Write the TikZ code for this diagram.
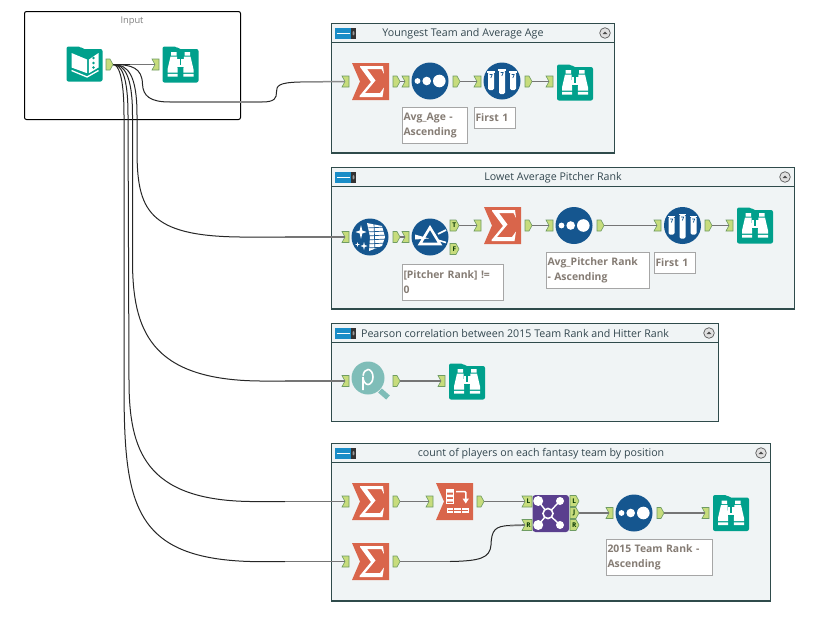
\documentclass[tikz,border=0pt]{standalone}
\usepackage{fontspec}
\setmainfont{Open Sans}
\usetikzlibrary{calc,arrows.meta}
\definecolor{panel}{HTML}{F0F4F5}
\definecolor{panelline}{HTML}{2F4B4B}
\definecolor{teal}{HTML}{00A08C}
\definecolor{sumred}{HTML}{D9654B}
\definecolor{sortblue}{HTML}{15568F}
\definecolor{joinpurple}{HTML}{5A3F8E}
\definecolor{portgreen}{HTML}{C7DC7C}
\definecolor{portline}{HTML}{6F9C63}
\definecolor{wiregray}{HTML}{757575}
\definecolor{titleink}{HTML}{33474F}
\definecolor{noteink}{HTML}{857C74}
\definecolor{pearsonteal}{HTML}{7FBDB8}
\definecolor{sliderblue}{HTML}{1A8DC7}
\tikzset{
  x=1pt,y=-1pt,
  panelbox/.style={draw=panelline,fill=panel,line width=1.1pt},
  panelrule/.style={draw=panelline,line width=1.1pt},
  paneltitle/.style={text=titleink,font=\fontsize{10.65}{12}\selectfont,inner sep=0pt},
  notebox/.style={draw=black!35,line width=1pt,fill=white,anchor=north west,inner xsep=1.5pt,inner ysep=0pt,align=left,
     minimum height=36pt,text=noteink,font=\fontsize{10.4}{15}\selectfont\bfseries},
  shortnote/.style={notebox,minimum height=21pt},
  tip/.style={inner sep=0pt,minimum size=0pt},
  portshape/.style={fill=portgreen,draw=portline,line width=.6pt},
  portletter/.style={inner sep=0pt,font=\fontsize{6.5}{6.5}\selectfont\bfseries,text=black!80!green},
  straightwire/.style={draw=wiregray,line width=1.7pt},
  curvewire/.style={draw=black!85,line width=1pt},
  softwire/.style={draw=black!45,line width=1.5pt},
  pics/browse/.style={code={
    \fill[teal,rounded corners=2pt] (0,0)--(14,0)--(16,2.5)--(36,2.5)--(36,36)--(0,36)--cycle;
    \fill[white] (8.5,5.5) rectangle (14,9) (22,5.5) rectangle (27.5,9);
    \fill[white] (8,10)--(14.5,10)--(15.2,26)--(5,26)--(5,23)--cycle;
    \fill[white] (28,10)--(21.5,10)--(20.8,26)--(31,26)--(31,23)--cycle;
    \fill[white] (14.5,12) rectangle (21.5,20);
    \fill[white] (5,27.3) rectangle (15.2,30) (20.8,27.3) rectangle (31,30);
    \fill[teal] (17.3,12) rectangle (18.7,18);
  }},
  pics/bookicon/.style={code={
    \fill[teal,rounded corners=2pt] (0,0)--(14,0)--(16,2.5)--(36,2.5)--(36,35)--(0,35)--cycle;
    \fill[white] (5,6.5)--(20.6,13)--(20.6,26.7)--(5,21)--cycle;
    \fill[white] (22.4,13)--(32,6.5)--(32,21)--(22.4,26.7)--cycle;
    \fill[teal] (27,11.5) circle (1.3) (27,16.5) circle (1.3) (27,21) circle (1.3);
    \draw[white,line width=1.3pt] (5,24)--(20.6,30.5)--(32,24);
  }},
  pics/sumicon/.style={code={
    \fill[sumred] (0,0)--(37,0)--(37,37)--(0,37)--(8,18.5)--cycle;
    \fill[white] (8,3)--(31,3)--(32,11)--(29.5,6)--(15,6)--(23.5,17.5)--(13,30)--(28,30)--(32,24.5)--(30.5,34)--(7.5,34)--(7.5,33)--(19,19)--(8,4)--cycle;
  }},
  pics/sorticon/.style={code={
    \fill[sortblue] (0,0) circle (18.5);
    \fill[white] (-12.5,0) circle (2.9) (-3.3,0) circle (4.3) (9.3,0) circle (6.3);
  }},
  pics/sampleicon/.style={code={
    \fill[sortblue] (0,0) circle (18.5);
    \foreach \dx/\top/\bot in {-11/-9/9,0/-11/13,11/-9/9}{
      \fill[white,rounded corners=1.5pt] (\dx-3,\top)--(\dx+3,\top)--(\dx+3,\bot)--(\dx-3,\bot)--cycle;
      \fill[white] (\dx-3.8,\top-.8) rectangle (\dx+3.8,\top+.6);
      \draw[sortblue,line width=.7pt] (\dx-1.5,\top+2.5)--(\dx+1.2,\top+2.5)--(\dx-.2,\top+6);
    }
  }},
  pics/filtericon/.style={code={
    \fill[sortblue] (0,0) circle (18.5);
    \draw[white,line width=2.6pt,line join=miter] (0,-9.5)--(10,7)--(-10,7)--cycle;
    \fill[white] (-15,-2.5)--(-1,1.5)--(-15,2.5)--cycle;
    \draw[white,line width=1.6pt] (8,-3)--(16,-7);
    \draw[white,line width=1.6pt] (9,3.5)--(16,5.5);
  }},
  pics/selecticon/.style={code={
    \fill[sortblue] (0,0) circle (18.5);
    \begin{scope}
      \clip (0,0) circle (17.5);
      \fill[white] (-3,-14)--(12,-11)--(15,0)--(12,9)--(-1,14)--(0,0)--cycle;
      \foreach \yy in {-9,-5,-1,3,7,11}{\draw[sortblue,line width=.7pt] (-4,\yy)--(17,\yy-1);}
      \draw[sortblue,line width=.7pt] (4,-14)--(5,14);
    \end{scope}
    \fill[white] (-9,-12)--(-7.7,-6.5)--(-3.5,-5)--(-7.7,-3.5)--(-9,2)--(-10.3,-3.5)--(-14.5,-5)--(-10.3,-6.5)--cycle;
    \fill[white] (-6,5)--(-5.2,8)--(-2.5,9)--(-5.2,10)--(-6,13)--(-6.8,10)--(-9.5,9)--(-6.8,8)--cycle;
    \fill[white] (-12.5,5)--(-12,7)--(-10,7.5)--(-12,8)--(-12.5,10)--(-13,8)--(-15,7.5)--(-13,7)--cycle;
  }},
  pics/arrangeicon/.style={code={
    \fill[sumred] (0,0)--(37,0)--(37,37)--(0,37)--(8,18.5)--cycle;
    \draw[white,line width=.9pt] (10.7,6.5) rectangle (17.3,20.5);
    \fill[white] (10.7,6.5) rectangle (17.3,9.5) (10.7,11.5) rectangle (17.3,14) (10.7,16) rectangle (17.3,18.5);
    \draw[white,line width=1.5pt] (20,8.7)--(29,8.7)--(29.8,9.5)--(29.8,16);
    \fill[white] (26.5,15.5)--(33,15.5)--(29.8,20.5)--cycle;
    \fill[white] (10.7,25.3) rectangle (33.3,29.5);
    \draw[sumred,line width=.6pt] (11.8,27.4)--(32.2,27.4);
    \draw[sumred,line width=.8pt] (17.5,25.3)--(17.5,29.5) (25,25.3)--(25,29.5);
  }},
  pics/joinicon/.style={code={
    \fill[joinpurple,rounded corners=3pt] (0,0) rectangle (36.5,37);
    \draw[white,line width=1.4pt] (5.7,6)--(15.5,18.5)--(5.7,30) (27.5,6)--(15.5,18.5)--(27.5,30);
    \fill[white] (5.7,6) circle (5) (5.7,30) circle (5) (27.5,6) circle (4) (27.5,30) circle (4);
    \fill[joinpurple,draw=white,line width=1.6pt] (15.5,18.5) circle (5);
  }},
  pics/pearsonicon/.style={code={
    \draw[pearsonteal,line width=5.5pt] (12,12.5)--(20,19.5);
    \fill[pearsonteal] (0,0) circle (16.5);
    \draw[white,line width=1.6pt] (-5,12) -- (-5,-1) arc[start angle=180,end angle=-170,x radius=5,y radius=7.5];
  }},
  pics/sliderglyph/.style={code={
    \fill[sliderblue] (0,0) rectangle (16,10.5);
    \fill[black!80] (16,0) rectangle (21,10.5);
    \fill[black!40] (18.5,5.25) ellipse (1 and 2.2);
    \draw[white,line width=.8pt] (1.5,5.25)--(14.5,5.25);
  }},
  pics/collapseglyph/.style={code={
    \fill[black!12,draw=black!65,line width=.7pt] (0,0) circle (5.3);
    \fill[black!70] (-2.5,1)--(0,-1.3)--(2.5,1)--cycle;
  }}
}
% input anchor: the node sits on the notch, the body reaches either side of it
\newcommand{\inlet}[3]{%
  \draw[portshape] (#2-3,#3-5.5)--(#2+4,#3-5.5)--(#2+4,#3+5.5)--(#2-3,#3+5.5)--(#2,#3)--cycle;
  \node[tip] (#1) at (#2,#3) {};}
% output anchor: the node sits on the point of the pentagon
\newcommand{\outlet}[3]{%
  \draw[portshape] (#2-7,#3-5.5)--(#2-3,#3-5.5)--(#2,#3)--(#2-3,#3+5.5)--(#2-7,#3+5.5)--cycle;
  \node[tip] (#1) at (#2,#3) {};}
% lettered outlets of the filter and join tools
\newcommand{\letterout}[4]{%
  \draw[portshape] (#2-9,#3-5.5)--(#2-3,#3-5.5)--(#2,#3)--(#2-3,#3+5.5)--(#2-9,#3+5.5)--cycle;
  \node[tip] (#1) at (#2,#3) {};
  \node[portletter] (#1t) at (#2-4.7,#3) {#4};}
% lettered inlets of the join tool
\newcommand{\letterin}[4]{%
  \draw[portshape] (#2-3,#3-5.5)--(#2+7,#3-5.5)--(#2+7,#3+5.5)--(#2-3,#3+5.5)--(#2,#3)--cycle;
  \node[tip] (#1) at (#2,#3) {};
  \node[portletter] (#1t) at (#2+3.5,#3) {#4};}
% titled panel: left, top, right, header rule, bottom
\newcommand{\toolpanel}[5]{%
  \draw[panelbox] (#1,#2) rectangle (#3,#5);
  \draw[panelrule] (#1,#4) -- (#3,#4);
  \pic at (#1+3.5,#2+4.5) {sliderglyph};
  \pic at (#3-9.5,#2+9.5) {collapseglyph};}
\begin{document}
\begin{tikzpicture}
\useasboundingbox (0,0) rectangle (831,622);
\fill[white] (0,0) rectangle (831,622);

% input group
\draw[black,line width=1pt,rounded corners=2pt] (24.5,11.5) rectangle (240.5,119.5);
\node[inner sep=0pt,text=black!50,font=\fontsize{9.3}{10}\selectfont] (inputtitle) at (132,21) {Input};

% panels
\toolpanel{331.5}{23.5}{614.5}{42.5}{153}
\node[paneltitle] (t1) at (463,33.5) {Youngest Team and Average Age};
\toolpanel{331.5}{167.5}{794.5}{186.5}{309}
\node[paneltitle] (t2) at (553,177.5) {Lowet Average Pitcher Rank};
\toolpanel{331.5}{323.5}{718.5}{342.5}{421.5}
\node[paneltitle] (t3) at (515,333.5) {Pearson correlation between 2015 Team Rank and Hitter Rank};
\toolpanel{331.5}{443.5}{770.5}{462.5}{601}
\node[paneltitle] (t4) at (541,453.5) {count of players on each fantasy team by position};

% tool icons
\pic at (66.5,46.5) {bookicon};
\pic at (162.5,46.5) {browse};

\pic at (352,63) {sumicon};
\pic at (430,81) {sorticon};
\pic at (502,81) {sampleicon};
\pic at (557,64.5) {browse};

\pic at (370,237) {selecticon};
\pic at (430,237) {filtericon};
\pic at (484,207) {sumicon};
\pic at (574,225.5) {sorticon};
\pic at (682.5,225.5) {sampleicon};
\pic at (737,207.5) {browse};

\pic at (368,378) {pearsonicon};
\pic at (449,363.5) {browse};

\pic at (352,483) {sumicon};
\pic at (436,483) {arrangeicon};
\pic at (532.5,495) {joinicon};
\pic at (634,513) {sorticon};
\pic at (713,495) {browse};
\pic at (352,543) {sumicon};

% ports
\outlet{bookout}{113}{64.5}
\inlet{viewin}{155}{64.5}

\inlet{ain}{345}{81.5}
\outlet{aout}{400}{81.5}
\inlet{bin}{405}{81.5}
\outlet{bout}{460}{81.5}
\inlet{cin}{477}{81.5}
\outlet{cout}{532}{81.5}
\inlet{din}{549}{81.5}

\inlet{ein}{345}{237}
\outlet{eout}{400}{237}
\inlet{fin}{405}{237}
\letterout{ftrue}{459}{225.5}{T}
\letterout{ffalse}{459}{249}{F}
\inlet{gin}{477}{225.5}
\outlet{gout}{532}{225.5}
\inlet{hin}{549}{225.5}
\outlet{hout}{604}{225.5}
\inlet{iin}{657}{225.5}
\outlet{iout}{712}{225.5}
\inlet{jin}{729}{225.5}

\inlet{kin}{345}{381}
\outlet{kout}{400}{381}
\inlet{lin}{441}{381}

\inlet{min}{345}{501.5}
\outlet{mout}{400}{501.5}
\inlet{nin}{429}{501.5}
\outlet{nout}{484}{501.5}
\letterin{jleft}{525}{501.5}{L}
\letterin{jright}{525}{525}{R}
\letterout{joutl}{579}{501}{L}
\letterout{joutj}{579}{513}{J}
\letterout{joutr}{579}{525}{R}
\inlet{oin}{609}{513}
\outlet{oout}{664}{513}
\inlet{pin}{705}{513}
\inlet{qin}{345}{561.5}
\outlet{qout}{400}{561.5}

% straight connectors
\foreach \a/\b in {bookout/viewin,aout/bin,bout/cin,cout/din,eout/fin,ftrue/gin,gout/hin,hout/iin,iout/jin,
                   kout/lin,mout/nin,nout/jleft,joutj/oin,oout/pin}
  \draw[straightwire] (\a) -- (\b);
\draw[curvewire,line width=1.4pt] (bookout) -- (130,64.5);

% long connectors fanning out of the input tool
\draw[curvewire] (bookout) .. controls (132,64.5) and (142,68) .. (142.5,84)
   .. controls (143,96) and (150,102) .. (170,102);
\draw[softwire] (170,102) -- (262,102);
\draw[curvewire] (262,102) .. controls (275,102) and (276.5,98) .. (276.5,92)
   .. controls (276.5,86) and (278,82.5) .. (300,82);
\draw[softwire] (300,82) -- (ain);

\draw[curvewire] (bookout) .. controls (128,64.5) and (137,75) .. (137,115)
   -- (137,150) .. controls (137,210) and (148,236) .. (240,237) -- (285,237);
\draw[straightwire] (285,237) -- (ein);

\draw[curvewire] (bookout) .. controls (124,64.5) and (132.5,75) .. (132.5,115)
   -- (132.5,260) .. controls (132.5,330) and (150,380) .. (260,381) -- (285,381);
\draw[straightwire] (285,381) -- (kin);

\draw[curvewire] (bookout) .. controls (121,64.5) and (128,75) .. (128,115)
   -- (129,380) .. controls (129,450) and (145,500) .. (250,501.5) -- (285,501.5);
\draw[straightwire] (285,501.5) -- (min);

\draw[curvewire] (bookout) .. controls (118,64.5) and (124,75) .. (124,115)
   -- (124,380) .. controls (124,500) and (130,558) .. (250,561.5) -- (285,561.5);
\draw[straightwire] (285,561.5) -- (qin);

% join tool's right input
\draw[straightwire] (qout) -- (450,561.5);
\draw[curvewire] (450,561.5) .. controls (480,561) and (490,558) .. (491,545)
   .. controls (491.5,530) and (495,526) .. (510,525.5);
\draw[straightwire] (510,525.5) -- (jright);

% annotations
\node[notebox,text width=62pt] (n1) at (401.5,107) {Avg\_Age -\\Ascending};
\node[shortnote,text width=38pt] (n2) at (473.5,107) {First 1};
\node[notebox,text width=98pt] (n3) at (401.5,264) {[Pitcher Rank] !=\\0};
\node[notebox,text width=100pt] (n4) at (545.5,251.5) {Avg\_Pitcher Rank\\- Ascending};
\node[shortnote,text width=38pt] (n5) at (653.5,251.5) {First 1};
\node[notebox,text width=103pt] (n6) at (605.5,539) {2015 Team Rank -\\Ascending};
\end{tikzpicture}
\end{document}
